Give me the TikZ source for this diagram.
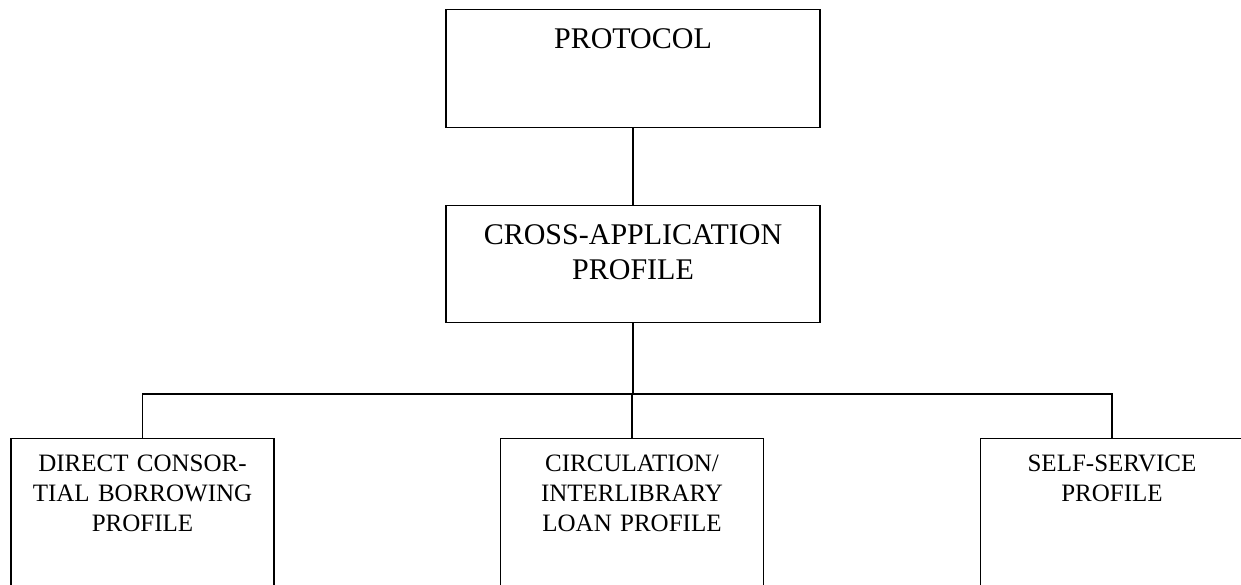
\documentclass[tikz,border=0pt]{standalone}
\usepackage{fontspec}
\setmainfont{Liberation Serif}

\tikzset{
  topbox/.style={draw, anchor=north, inner sep=0pt, text width=187pt, align=center,
    font=\fontsize{15}{17.5}\selectfont, text height=19.5pt, text depth=39pt},
  profbox/.style={draw, anchor=north, inner sep=0pt, text width=131.5pt, align=center,
    font=\fontsize{12.5}{15}\selectfont, text height=16.5pt, text depth=70pt}
}

\begin{document}
\begin{tikzpicture}[x=0.5pt, y=-0.5pt, line width=0.6pt]

% the page
\clip (0,0) rectangle (1241,584);

% upper boxes
\node[topbox, text depth=39.5pt] (protocol) at (633,9) {PROTOCOL};
\node[topbox] (cross) at (633,205) {CROSS-APPLICATION\\PROFILE};

% the profiles
\node[profbox] (direct) at (142.5,438) {DIRECT CONSOR-\\TIAL BORROWING\\PROFILE};
\node[profbox] (circ) at (632,438) {CIRCULATION/\\INTERLIBRARY\\LOAN PROFILE};
\node[profbox] (self) at (1112,438) {SELF-SERVICE\\PROFILE};

% the lines
\coordinate (bus) at (633,394);
\draw (protocol.south) -- (cross.north);
\draw (cross.south) -- (bus);
\draw (direct.north) |- (bus) -| (self.north);
\draw (circ.north) -- (circ.north |- bus);

\end{tikzpicture}
\end{document}
